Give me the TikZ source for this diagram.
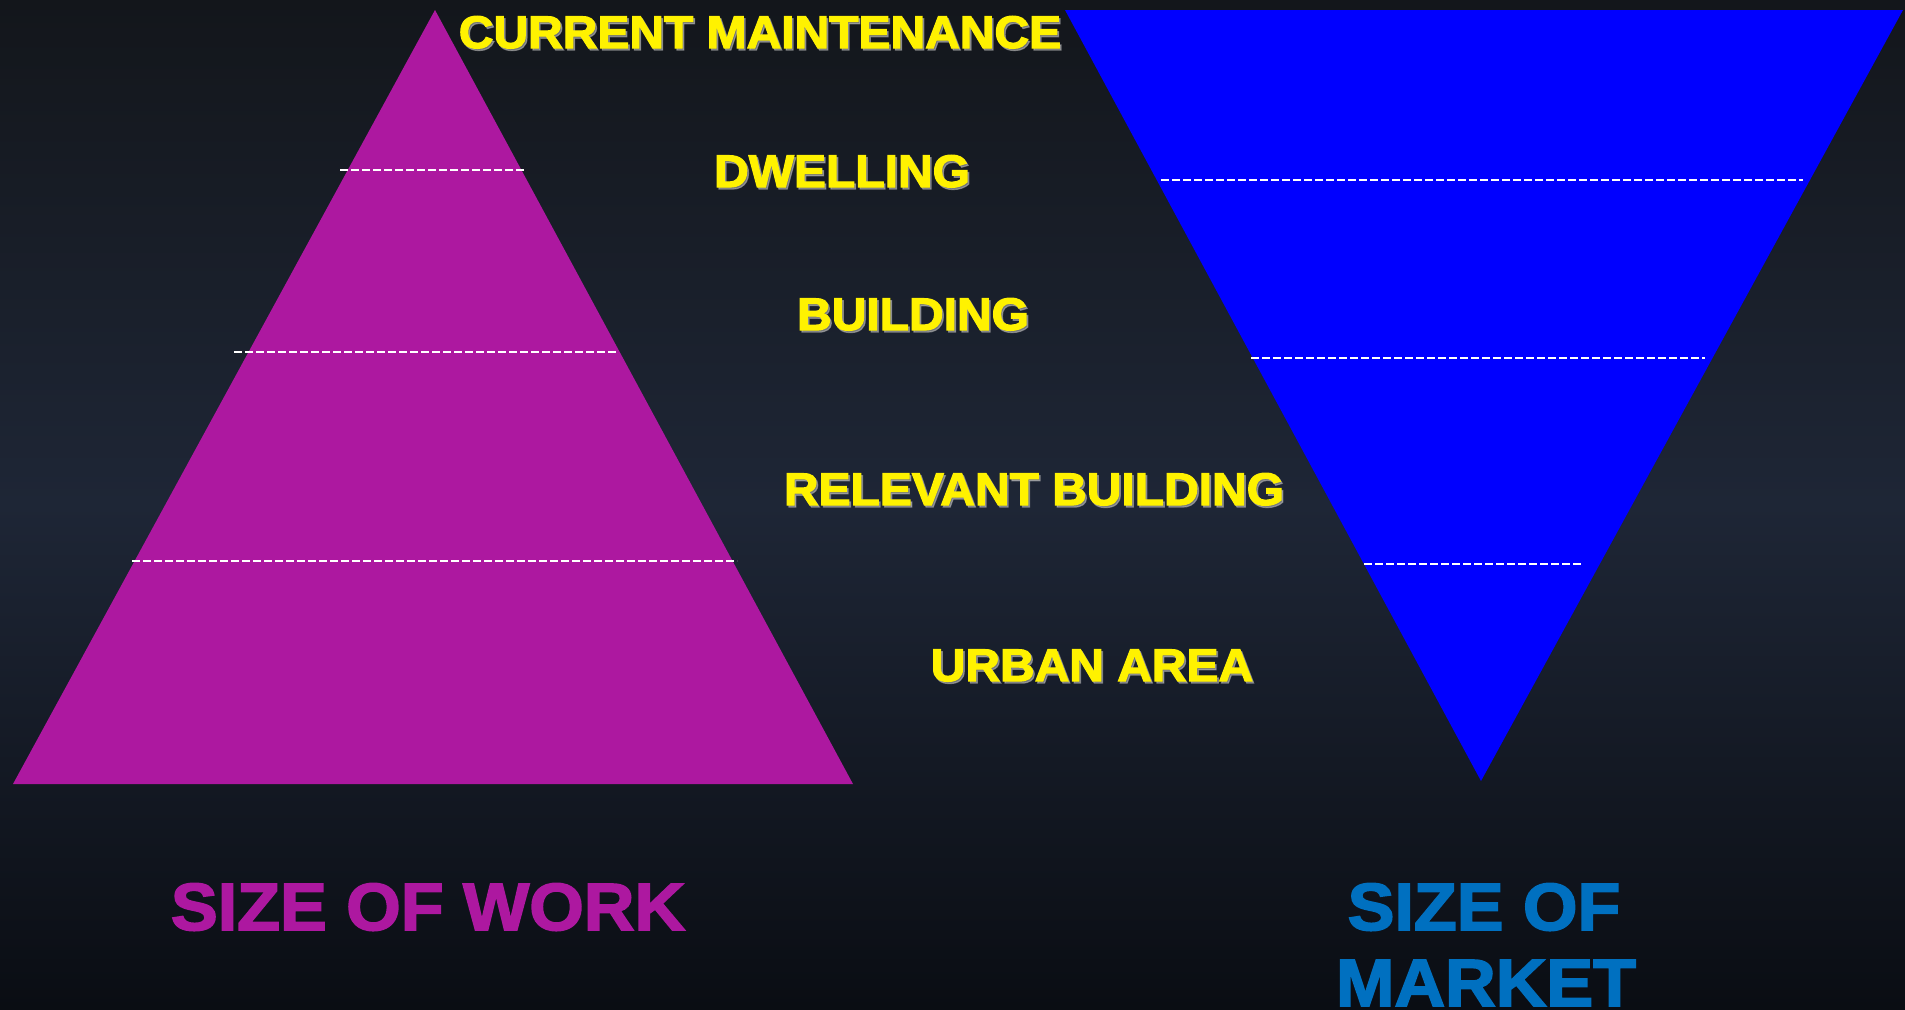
\documentclass[tikz,border=0pt]{standalone}
\usepackage{fontspec}
\usepackage{tikz}
\usetikzlibrary{shapes,arrows}

\newfontfamily\heavyfont{Liberation Sans}[FakeStretch=1.05,FakeBold=2.6]

\definecolor{bgtop}{RGB}{19,22,27}
\definecolor{bgmid}{RGB}{30,38,54}
\definecolor{bgbot}{RGB}{10,13,19}
\definecolor{workcol}{RGB}{173,24,160}
\definecolor{marketcol}{RGB}{0,0,255}
\definecolor{markettext}{RGB}{0,112,192}

\tikzset{
  lvl/.style={draw=none,inner sep=0pt,anchor=base,text=yellow,
    font=\heavyfont\bfseries\fontsize{13pt}{15pt}\selectfont},
  lvlshadow/.style={lvl,text=gray!60,opacity=0.6,xshift=0.5pt,yshift=-0.6pt},
  caption/.style={draw=none,inner sep=0pt,anchor=base,
    font=\heavyfont\bfseries\fontsize{19pt}{21pt}\selectfont},
  cut/.style={white,line width=0.8pt,dash pattern=on 0.08cm off 0.03cm}
}

% yellow level name with its grey drop shadow
\newcommand{\levelname}[3]{%
  \node[lvlshadow] (#1-sh) at (#2) {#3};
  \node[lvl] (#1) at (#2) {#3};}

\begin{document}
\begin{tikzpicture}
  \useasboundingbox (0,0) rectangle (19.05,10.09);
  \shade[top color=bgtop,bottom color=bgbot,middle color=bgmid] (0,0) rectangle (19.05,10.09);

  % size of work
  \fill[workcol] (0.13,2.25) -- (8.53,2.25) -- (4.35,9.99) -- cycle;
  \draw[cut] (3.40,8.39) -- (5.26,8.39);
  \draw[cut] (2.34,6.57) -- (6.17,6.57);
  \draw[cut] (1.32,4.48) -- (7.37,4.48);

  % size of market
  \fill[marketcol] (10.65,9.99) -- (19.03,9.99) -- (14.81,2.28) -- cycle;
  \draw[cut] (11.61,8.29) -- (18.03,8.29);
  \draw[cut] (12.51,6.51) -- (17.05,6.51);
  \draw[cut] (13.64,4.45) -- (15.82,4.45);

  \levelname{maint}{7.60,9.61}{CURRENT MAINTENANCE}
  \levelname{dwelling}{8.42,8.22}{DWELLING}
  \levelname{building}{9.13,6.79}{BUILDING}
  \levelname{relevant}{10.34,5.04}{RELEVANT BUILDING}
  \levelname{urban}{10.92,3.28}{URBAN AREA}

  \node[caption,text=workcol] (work) at (4.28,0.79) {SIZE OF WORK};
  \node[caption,text=markettext] (market1) at (14.84,0.79) {SIZE OF};
  \node[caption,text=markettext] (market2) at (14.86,0.03) {MARKET};
\end{tikzpicture}
\end{document}
